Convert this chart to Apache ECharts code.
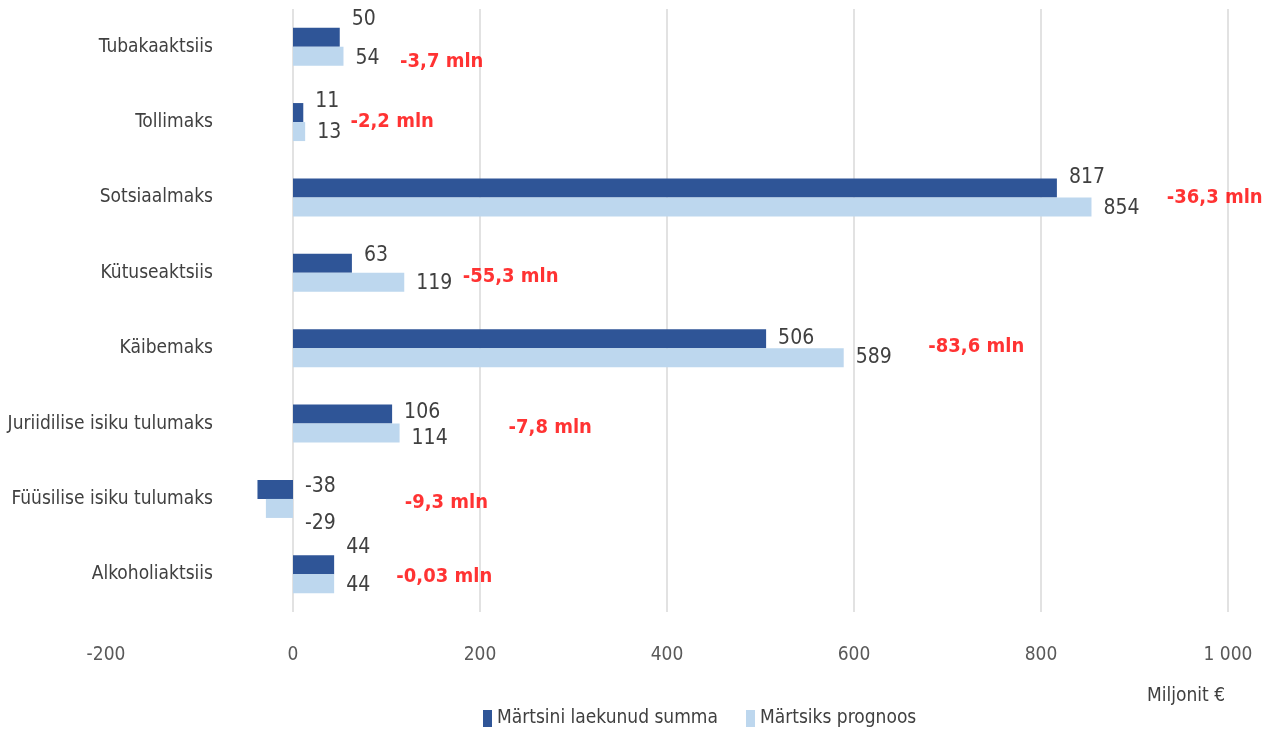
<!DOCTYPE html>
<html>
<head>
<meta charset="utf-8">
<script src="https://cdn.jsdelivr.net/npm/echarts@6/dist/echarts.min.js"></script>
<style>html,body{margin:0;padding:0;background:#fff;}#c{width:1281px;height:729px;}</style>
</head>
<body>
<div id="c"></div>
<script>
// Data (bottom to top)
const categories = ['Alkoholiaktsiis', 'Füüsilise isiku tulumaks', 'Juriidilise isiku tulumaks', 'Käibemaks', 'Kütuseaktsiis', 'Sotsiaalmaks', 'Tollimaks', 'Tubakaaktsiis'];
const actual = [44, -38, 106, 506, 63, 817, 11, 50];
const forecast = [44, -29, 114, 589, 119, 854, 13, 54];
const diffText = ['-0,03 mln', '-9,3 mln', '-7,8 mln', '-83,6 mln', '-55,3 mln', '-36,3 mln', '-2,2 mln', '-3,7 mln'];
const diffAnchor = [110, 119, 230, 679, 181, 934, 61, 114];
const seriesNames = ['Märtsini laekunud summa', 'Märtsiks prognoos'];
const xTicks = [-200, 0, 200, 400, 600, 800, 1000];

// label styling (vertical nudges, px)
const actualDy = [-17, -3, -2, 0, -8, -10, -11, -18];
const forecastDy = [2, 15, 5, 0, 1, 2, 1, 2];
const noteDy = [2, 4, 4, -1, 4, 0, 0, 15];

const FONT = "'DejaVu Sans Condensed', 'Liberation Sans Narrow', sans-serif";
const chart = echarts.init(document.getElementById('c'));

function barData(vals, dys) {
  return vals.map((v, i) => ({ value: v, label: { offset: [0, dys[i]] } }));
}

chart.setOption({
  animation: false,
  textStyle: { fontFamily: FONT },
  grid: { left: 106, right: 53, top: 9, bottom: 117, containLabel: false, outerBoundsMode: 'none' },
  xAxis: {
    type: 'value', min: xTicks[0], max: xTicks[xTicks.length - 1], interval: 200,
    axisLine: { show: false }, axisTick: { show: false },
    axisLabel: { color: '#595959', fontSize: 19, fontFamily: FONT, margin: 34,
      formatter: v => String(v).replace(/\B(?=(\d{3})+(?!\d))/g, ' ') },
    splitLine: { show: true, lineStyle: { color: ['rgba(0,0,0,0)', '#D9D9D9', '#D9D9D9', '#D9D9D9', '#D9D9D9', '#D9D9D9', '#D9D9D9'], width: 1.5 } }
  },
  yAxis: {
    type: 'category', data: categories, offset: -115,
    axisLine: { show: false }, axisTick: { show: false },
    axisLabel: { color: '#404040', fontSize: 19, fontFamily: FONT, margin: 8 },
    splitLine: { show: false }
  },
  legend: {
    data: seriesNames, left: 478, top: 704, itemWidth: 9, itemHeight: 17, itemGap: 28,
    icon: 'rect',
    textStyle: { color: '#404040', fontSize: 19, fontFamily: FONT }
  },
  graphic: [{
    type: 'text', left: 1147, top: 687,
    style: { text: 'Miljonit €', fill: '#404040', font: '19px ' + FONT }
  }],
  series: [
    {
      name: seriesNames[0], type: 'bar', data: barData(actual, actualDy),
      barWidth: 19, barGap: '0%', itemStyle: { color: '#2F5597' },
      label: { show: true, position: 'right', distance: 12, color: '#404040', fontSize: 21, fontFamily: FONT }
    },
    {
      name: seriesNames[1], type: 'bar', data: barData(forecast, forecastDy),
      barWidth: 19, barGap: '0%', itemStyle: { color: '#BDD7EE' },
      label: { show: true, position: 'right', distance: 12, color: '#404040', fontSize: 21, fontFamily: FONT }
    },
    {
      name: 'diff', type: 'scatter', symbolSize: 1, itemStyle: { color: 'rgba(0,0,0,0)' },
      data: diffAnchor.map((x, i) => ({ value: [x, categories[i]], label: { offset: [0, noteDy[i]] } })),
      label: { show: true, position: 'right', distance: 0, color: '#FF0000', fontWeight: 'bold', fontSize: 20, fontFamily: FONT,
        formatter: p => diffText[p.dataIndex] },
      silent: true
    }
  ]
});
</script>
</body>
</html>
